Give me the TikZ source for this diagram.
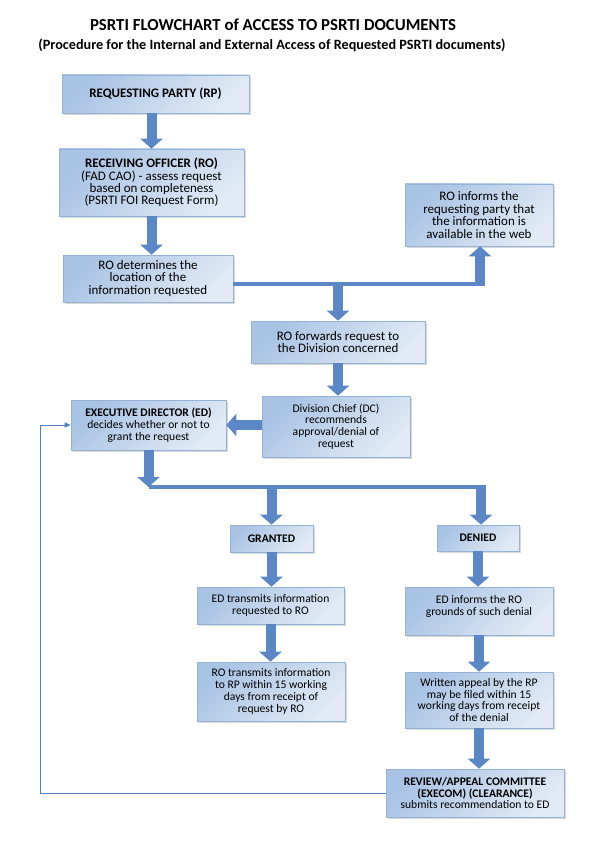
\documentclass[tikz,border=0pt]{standalone}
\usepackage{fontspec}
\setmainfont{Carlito}
\usetikzlibrary{arrows.meta,shadows}
\definecolor{boxdark}{HTML}{A9C3E4}
\definecolor{boxlight}{HTML}{E1EAF5}
\definecolor{boxline}{HTML}{95B3D7}
\definecolor{arrowblue}{HTML}{5B87C6}
\definecolor{loopblue}{HTML}{4F81BD}
\begin{document}
\begin{tikzpicture}[x=1pt,y=-1pt,
    box/.style={draw=boxline,line width=.6pt,top color=boxdark,bottom color=boxlight,
      shading angle=45,drop shadow={shadow xshift=2pt,shadow yshift=-2pt,fill=black!30},
      align=center,inner sep=0pt,text=black},
    bigtxt/.style={font=\fontsize{13}{12.4}\selectfont},
    smalltxt/.style={font=\fontsize{11.6}{11.8}\selectfont},
    bigarrow/.style={arrowblue,line width=10pt,-{Triangle[width=22pt,length=10pt]}},
    bar/.style={arrowblue,line width=4pt},
    feedback/.style={loopblue,line width=1pt,-{Triangle[width=5pt,length=6pt]}}]
    \useasboundingbox (0,0) rectangle (600,850);
    % titles
    \node (title) at (273,25) {\fontsize{16.8}{18}\selectfont\bfseries PSRTI FLOWCHART of ACCESS TO PSRTI DOCUMENTS};
    \node (subtitle) at (272,45) {\fontsize{14.2}{14}\selectfont\bfseries (Procedure for the Internal and External Access of Requested PSRTI documents)};
    % boxes
    \node[box,bigtxt,minimum width=187pt,minimum height=38pt] (rp) at (155.5,94) {\textbf{REQUESTING PARTY (RP)}};
    \node[box,bigtxt,minimum width=185pt,minimum height=67pt] (ro) at (151.5,182.5) {\textbf{RECEIVING OFFICER (RO)}\\(FAD CAO) - assess request\\based on completeness\\(PSRTI FOI Request Form)};
    \node[box,bigtxt,minimum width=170pt,minimum height=47pt] (det) at (148,278.5) {RO determines the\\location of the\\information requested};
    \node[box,bigtxt,minimum width=148pt,minimum height=62pt] (web) at (479,215) {RO informs the\\requesting party that\\the information is\\available in the web};
    \node[box,bigtxt,minimum width=174pt,minimum height=42pt] (fwd) at (338,342) {RO forwards request to\\the Division concerned};
    \node[box,smalltxt,minimum width=148pt,minimum height=61pt] (dc) at (336,426.5) {Division Chief (DC)\\recommends\\approval/denial of\\request};
    \node[box,smalltxt,minimum width=155pt,minimum height=50pt] (ed) at (148.5,425) {\textbf{EXECUTIVE DIRECTOR (ED)}\\decides whether or not to\\grant the request};
    \node[box,smalltxt,minimum width=83pt,minimum height=27pt] (granted) at (271.5,538.5) {\textbf{GRANTED}};
    \node[box,smalltxt,minimum width=82pt,minimum height=26pt] (denied) at (478,538) {\textbf{DENIED}};
    \node[box,smalltxt,minimum width=147pt,minimum height=37pt] (edtr) at (270.5,605.5) {ED transmits information\\requested to RO};
    \node[box,smalltxt,minimum width=148pt,minimum height=59pt] (rotr) at (271,691.5) {RO transmits information\\to RP within 15 working\\days from receipt of\\request by RO};
    \node[box,smalltxt,minimum width=148pt,minimum height=48pt] (edinf) at (479,611) {ED informs the RO\\grounds of such denial\\~};
    \node[box,smalltxt,minimum width=148pt,minimum height=56pt] (appeal) at (479,700) {Written appeal by the RP\\may be filed within 15\\working days from receipt\\of the denial};
    \node[box,smalltxt,minimum width=178pt,minimum height=48pt] (review) at (475,793) {\textbf{REVIEW/APPEAL COMMITTEE}\\\textbf{(EXECOM) (CLEARANCE)}\\submits recommendation to ED};
    % joints of the bars
    \coordinate (wjoin) at (480,284);
    \coordinate (ejoin) at (148.5,487);
    \coordinate (djoin) at (481,487);
    \coordinate (back) at (40,0);
    % block arrows
    \draw[bigarrow] (ro.north |- rp.south) -- (ro.north);
    \draw[bigarrow] (ro.south) -- (ro.south |- det.north);
    \draw[bar] (det.east |- wjoin) -- ([xshift=5pt]wjoin);
    \draw[bigarrow] ([yshift=-2pt]wjoin) -- (wjoin |- web.south);
    \draw[bigarrow] (wjoin -| fwd.north) -- (fwd.north);
    \draw[bigarrow] (fwd.south) -- (fwd.south |- dc.north);
    \draw[bigarrow] (dc.west |- ed.east) -- (ed.east);
    \draw[bigarrow] (ed.south) -- (ejoin);
    \draw[bar] (ejoin) -- ([xshift=5pt]djoin);
    \draw[bigarrow] (ejoin -| granted.north) -- (granted.north);
    \draw[bigarrow] (djoin) -- (djoin |- denied.north);
    \draw[bigarrow] (granted.south) -- (granted.south |- edtr.north);
    \draw[bigarrow] (edtr.south) -- (edtr.south |- rotr.north);
    \draw[bigarrow] (denied.south) -- (denied.south |- edinf.north);
    \draw[bigarrow] (edinf.south) -- (appeal.north);
    \draw[bigarrow] (appeal.south) -- (appeal.south |- review.north);
    % back to the ED
    \draw[feedback] (review.west) -- (review.west -| back) |- (ed.west);
\end{tikzpicture}
\end{document}
